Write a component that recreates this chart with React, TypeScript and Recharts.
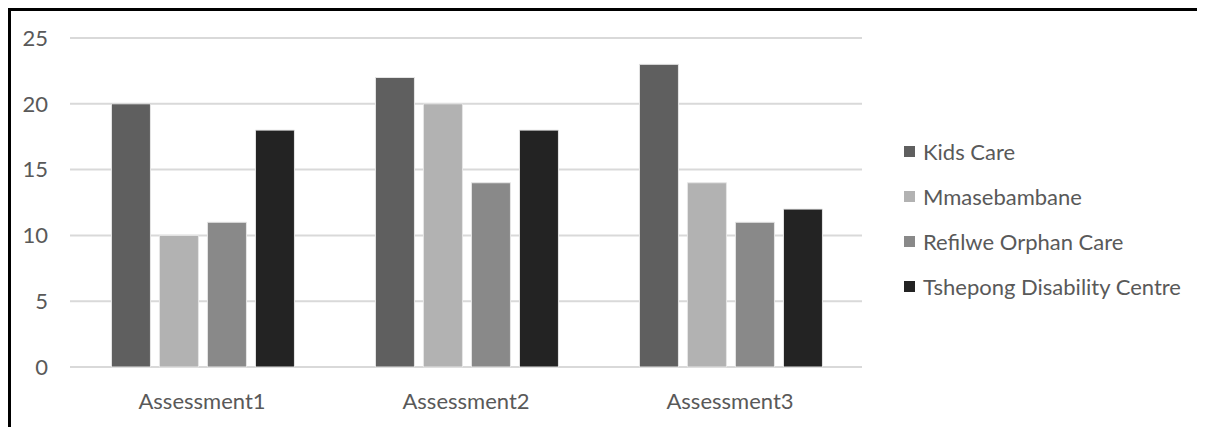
import React from "react";
import {
    BarChart,
    Bar,
    XAxis,
    YAxis,
    CartesianGrid,
    Legend,
} from "recharts";

const assessments = ["Assessment1", "Assessment2", "Assessment3"];
const kidsCare = [20, 22, 23];
const mmasebambane = [10, 20, 14];
const refilwe = [11, 14, 11];
const tshepong = [18, 18, 12];
const yTicks = [0, 5, 10, 15, 20, 25];

const series = [
    { key: "kids", name: "Kids Care", color: "#5f5f5f" },
    { key: "mmase", name: "Mmasebambane", color: "#b2b2b2" },
    { key: "refilwe", name: "Refilwe Orphan Care", color: "#898989" },
    { key: "tshepong", name: "Tshepong Disability Centre", color: "#232323" },
];

const data = assessments.map((name, i) => ({
    name,
    kids: kidsCare[i],
    mmase: mmasebambane[i],
    refilwe: refilwe[i],
    tshepong: tshepong[i],
}));

const FONT = "Lato, 'Open Sans', sans-serif";
const TEXT = "#595959";

const LegendList = (props: any) => {
    const { payload } = props;
    return (
        <ul style={{ listStyle: "none", margin: 0, padding: 0 }}>
            {(payload || []).map((entry: any) => (
                <li
                    key={entry.value}
                    style={{
                        height: 45,
                        display: "flex",
                        alignItems: "center",
                        fontFamily: FONT,
                        fontSize: 22,
                        color: TEXT,
                        whiteSpace: "nowrap",
                    }}
                >
                    <span
                        style={{
                            display: "inline-block",
                            width: 11,
                            height: 11,
                            background: entry.color,
                            marginRight: 8,
                        }}
                    />
                    {entry.value}
                </li>
            ))}
        </ul>
    );
};

const App = () => {
    return (
        <div
            style={{
                position: "fixed",
                left: 8,
                top: 8,
                width: 1186,
                height: 416,
                overflow: "hidden",
                borderTop: "3px solid #000",
                borderLeft: "3px solid #000",
                background: "#fff",
            }}
        >
            <BarChart
                width={1185}
                height={416}
                data={data}
                margin={{ top: 27, right: 334, bottom: 30, left: 9 }}
                barCategoryGap="15.7%"
                barGap={9}
            >
                <CartesianGrid
                    vertical={false}
                    stroke="#d9d9d9"
                    strokeWidth={2}
                />
                <XAxis
                    dataKey="name"
                    height={30}
                    axisLine={false}
                    tickLine={false}
                    tickSize={0}
                    tickMargin={26}
                    tick={{ fill: TEXT, fontSize: 22, fontFamily: FONT }}
                />
                <YAxis
                    width={50}
                    domain={[0, 25]}
                    ticks={yTicks}
                    axisLine={false}
                    tickLine={false}
                    tickSize={0}
                    tickMargin={22}
                    tick={{ fill: TEXT, fontSize: 22, fontFamily: FONT }}
                />
                <Legend
                    layout="horizontal"
                    align="center"
                    verticalAlign="middle"
                    content={<LegendList />}
                    wrapperStyle={{
                        left: 893,
                        top: 118,
                        width: 290,
                        height: 180,
                    }}
                />
                {series.map((s) => (
                    <Bar
                        key={s.key}
                        dataKey={s.key}
                        name={s.name}
                        fill={s.color}
                        stroke="#e6e6e6"
                        strokeWidth={1}
                        isAnimationActive={false}
                    />
                ))}
            </BarChart>
        </div>
    );
};

export default App;
